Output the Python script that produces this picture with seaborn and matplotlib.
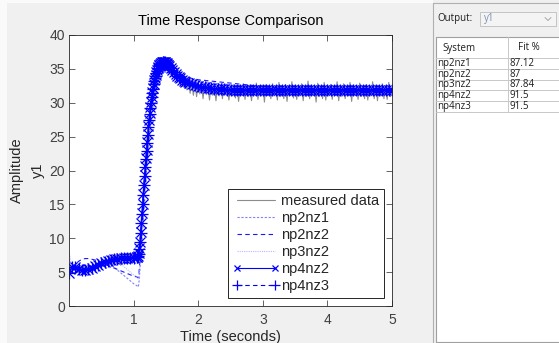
import numpy as np
import matplotlib
matplotlib.use("Agg")
import matplotlib.pyplot as plt
from matplotlib.patches import Rectangle
from matplotlib.lines import Line2D
import seaborn as sns

# ---------------- data ----------------
dt_meas = 0.025
measured = [
    4.6, 6.0, 5.4, 6.1, 5.2, 5.9, 4.9, 5.7, 5.0, 5.8,
    4.7, 5.6, 5.1, 6.0, 5.2, 6.1, 5.3, 6.4, 5.5, 6.6,
    5.6, 6.9, 5.9, 7.0, 6.0, 7.3, 6.2, 7.4, 6.1, 7.6,
    6.3, 7.5, 6.0, 7.7, 6.4, 7.6, 6.2, 7.8, 6.3, 7.7,
    6.5, 7.6, 6.6, 7.9, 10.2, 13.5, 17.2, 20.5, 23.8, 26.3,
    29.0, 30.8, 32.6, 33.8, 34.9, 35.4, 36.1, 36.3, 36.5, 36.1,
    36.4, 35.6, 35.8, 34.6, 35.2, 34.0, 34.6, 33.3, 34.2, 32.7,
    33.9, 32.3, 33.5, 31.9, 33.3, 31.4, 33.0, 31.1, 32.9, 30.9,
    32.8, 31.3, 32.7, 30.6, 32.6, 31.2, 32.5, 30.4, 32.6, 31.1,
    32.4, 30.3, 32.5, 31.0, 32.6, 30.6, 32.5, 31.2, 32.7, 30.4,
    32.4, 31.0, 32.6, 30.7, 32.5, 30.2, 32.4, 31.1, 32.8, 30.5,
    32.5, 30.9, 32.6, 30.3, 32.4, 31.2, 32.9, 30.5, 32.5, 31.0,
    32.6, 30.1, 32.7, 31.1, 32.4, 30.6, 32.8, 31.0, 32.5, 30.4,
    33.0, 30.9, 32.4, 30.6, 32.7, 30.2, 32.5, 31.1, 33.1, 30.7,
    32.6, 30.5, 32.4, 31.0, 32.8, 30.3, 32.5, 30.9, 33.2, 30.6,
    32.6, 31.1, 32.4, 30.1, 32.9, 30.9, 32.5, 30.6, 33.0, 30.4,
    32.6, 31.0, 32.7, 30.5, 32.5, 31.1, 33.1, 30.3, 32.5, 30.9,
    32.8, 30.6, 32.4, 31.0, 33.0, 30.2, 32.6, 31.1, 32.5, 30.5,
    32.9, 30.9, 32.5, 30.6, 32.7, 30.4, 32.4, 31.0, 33.1, 30.6,
    32.6, 30.3, 32.5, 31.0, 32.8, 30.6, 32.5, 30.5, 33.0, 30.9,
    32.1,
]
t_meas = np.round(np.arange(len(measured)) * dt_meas, 4)

# model time grid: coarse before the step, fine during the step, coarse after
t_model = np.round(np.concatenate([
    np.arange(0.0, 1.0501, 0.05),
    np.arange(1.06, 1.5501, 0.01),
    np.arange(1.575, 1.8001, 0.025),
    np.arange(1.85, 5.0001, 0.05),
]), 4)

np2nz1 = [
    # 0 .. 1.05
    4.2, 5.4, 5.6, 5.5, 5.4, 5.4, 5.5, 5.7, 5.9, 6.1, 6.3, 6.4, 6.4, 6.1, 5.7, 5.3, 4.9, 4.5, 4.1, 3.7, 3.3, 3.0,
    # 1.06 .. 1.55
    2.9, 2.8, 3.2, 4.2, 5.5, 6.9, 8.3, 9.7, 11.1, 12.5,
    13.9, 15.3, 16.7, 18.1, 19.5, 20.7, 21.9, 23.1, 24.2, 25.3,
    26.3, 27.2, 28.1, 28.9, 29.6, 30.2, 30.8, 31.4, 31.9, 32.3,
    32.7, 33.0, 33.3, 33.55, 33.8, 33.95, 34.1, 34.25, 34.35, 34.4,
    34.45, 34.5, 34.5, 34.5, 34.5, 34.5, 34.47, 34.45, 34.42, 34.4,
    # 1.575 .. 1.8
    34.3, 34.2, 34.1, 34.0, 33.9, 33.8, 33.7, 33.65, 33.6, 33.55,
    # 1.85 .. 5.0
    33.45, 33.35, 33.25, 33.15, 33.1, 33.05, 33.0, 32.95, 32.9, 32.85, 32.8, 32.75, 32.7, 32.65,
    32.6, 32.55, 32.5, 32.45, 32.4, 32.35, 32.3, 32.25, 32.2, 32.15,
    32.1, 32.1, 32.05, 32.05, 32.0, 32.0, 32.0, 31.95, 31.95, 31.95,
    31.95, 31.9, 31.9, 31.9, 31.9, 31.9, 31.9, 31.9, 31.9, 31.9,
    31.9, 31.9, 31.9, 31.9, 31.9, 31.9, 31.9, 31.9, 31.9, 31.9,
    31.9, 31.9, 31.9, 31.9, 31.9, 31.9, 31.9, 31.9, 31.9, 31.9,
]
np2nz2 = [
    4.5, 5.6, 6.2, 6.6, 6.9, 7.0, 7.0, 6.9, 6.8, 6.6, 6.4, 6.2, 6.0, 5.8, 5.6, 5.4, 5.2, 5.0, 4.8, 4.6, 4.4, 4.3,
    4.2, 4.2, 4.6, 5.7, 7.0, 8.4, 9.8, 11.2, 12.6, 14.0,
    15.4, 16.8, 18.2, 19.6, 21.0, 22.2, 23.4, 24.6, 25.7, 26.8,
    27.7, 28.6, 29.4, 30.1, 30.8, 31.4, 31.9, 32.4, 32.8, 33.2,
    33.5, 33.8, 34.0, 34.15, 34.3, 34.4, 34.5, 34.6, 34.7, 34.75,
    34.78, 34.8, 34.8, 34.8, 34.8, 34.8, 34.78, 34.75, 34.72, 34.7,
    34.6, 34.5, 34.4, 34.3, 34.2, 34.1, 34.0, 33.9, 33.85, 33.8,
    33.7, 33.6, 33.5, 33.4, 33.35, 33.3, 33.25, 33.2, 33.15, 33.1, 33.05, 33.0, 32.95, 32.9,
    32.85, 32.8, 32.75, 32.7, 32.65, 32.6, 32.55, 32.5, 32.45, 32.4,
    32.35, 32.3, 32.25, 32.2, 32.15, 32.1, 32.1, 32.05, 32.05, 32.0,
    32.0, 32.0, 31.95, 31.95, 31.95, 31.95, 31.9, 31.9, 31.9, 31.9,
    31.9, 31.9, 31.9, 31.9, 31.9, 31.9, 31.9, 31.9, 31.9, 31.9,
    31.9, 31.9, 31.9, 31.9, 31.9, 31.9, 31.9, 31.9, 31.9, 31.9,
]
np3nz2 = [
    8.3, 5.0, 5.5, 5.5, 5.4, 5.35, 5.4, 5.6, 5.85, 6.1, 6.3, 6.5, 6.6, 6.7, 6.7, 6.5, 6.2, 5.8, 5.4, 5.0, 4.6, 4.3,
    4.2, 4.0, 4.3, 5.3, 6.5, 7.9, 9.3, 10.7, 12.1, 13.5,
    14.9, 16.3, 17.7, 19.1, 20.5, 21.7, 22.9, 24.1, 25.2, 26.2,
    27.2, 28.1, 29.0, 29.8, 30.5, 31.1, 31.7, 32.3, 32.8, 33.2,
    33.5, 33.8, 34.1, 34.35, 34.6, 34.7, 34.8, 34.95, 35.05, 35.1,
    35.15, 35.2, 35.2, 35.2, 35.2, 35.18, 35.15, 35.1, 35.05, 35.0,
    34.85, 34.7, 34.55, 34.4, 34.25, 34.1, 33.95, 33.8, 33.7, 33.6,
    33.4, 33.2, 33.05, 32.9, 32.8, 32.7, 32.6, 32.5, 32.45, 32.4, 32.35, 32.3, 32.25, 32.2,
    32.15, 32.1, 32.1, 32.05, 32.05, 32.0, 32.0, 32.0, 31.95, 31.95,
    31.95, 31.9, 31.9, 31.9, 31.9, 31.9, 31.9, 31.9, 31.9, 31.9,
    31.9, 31.9, 31.9, 31.9, 31.9, 31.9, 31.9, 31.9, 31.9, 31.9,
    31.9, 31.9, 31.9, 31.9, 31.9, 31.9, 31.9, 31.9, 31.9, 31.9,
    31.9, 31.9, 31.9, 31.9, 31.9, 31.9, 31.9, 31.9, 31.9, 31.9,
]
np4nz2 = [
    4.8, 5.8, 5.7, 5.5, 5.35, 5.3, 5.4, 5.6, 5.85, 6.1, 6.3, 6.5, 6.65, 6.8, 6.9, 7.0, 7.05, 7.1, 7.1, 7.15, 7.15, 7.2,
    7.25, 7.4, 7.8, 8.5, 9.5, 10.9, 12.3, 13.7, 15.1, 16.5,
    17.9, 19.3, 20.6, 21.8, 23.0, 24.2, 25.4, 26.5, 27.5, 28.5,
    29.3, 30.1, 30.9, 31.6, 32.2, 32.8, 33.3, 33.7, 34.1, 34.5,
    34.8, 35.1, 35.3, 35.5, 35.6, 35.75, 35.85, 35.9, 35.95, 36.0,
    36.0, 36.0, 36.0, 35.95, 35.9, 35.8, 35.7, 35.6, 35.5, 35.4,
    35.1, 34.8, 34.5, 34.2, 34.0, 33.8, 33.6, 33.4, 33.2, 33.1,
    32.9, 32.7, 32.55, 32.45, 32.35, 32.3, 32.2, 32.15, 32.1, 32.05, 32.0, 32.0, 31.95, 31.95,
    31.9, 31.9, 31.9, 31.9, 31.9, 31.9, 31.9, 31.9, 31.9, 31.9,
    31.9, 31.9, 31.9, 31.9, 31.9, 31.9, 31.9, 31.9, 31.9, 31.9,
    31.9, 31.9, 31.9, 31.9, 31.9, 31.9, 31.9, 31.9, 31.9, 31.9,
    31.9, 31.9, 31.9, 31.9, 31.9, 31.9, 31.9, 31.9, 31.9, 31.9,
    31.9, 31.9, 31.9, 31.9, 31.9, 31.9, 31.9, 31.9, 31.9, 31.9,
]
np4nz3 = [
    4.9, 5.8, 5.7, 5.5, 5.35, 5.3, 5.4, 5.6, 5.85, 6.1, 6.3, 6.5, 6.65, 6.8, 6.9, 7.0, 7.05, 7.1, 7.1, 7.15, 7.15, 7.2,
    7.25, 7.35, 7.7, 8.4, 9.4, 10.8, 12.2, 13.6, 15.0, 16.4,
    17.8, 19.2, 20.5, 21.7, 22.9, 24.1, 25.3, 26.4, 27.4, 28.4,
    29.2, 30.0, 30.8, 31.5, 32.1, 32.7, 33.2, 33.6, 34.0, 34.4,
    34.7, 35.0, 35.2, 35.4, 35.55, 35.7, 35.8, 35.85, 35.9, 35.95,
    35.95, 35.95, 35.95, 35.9, 35.85, 35.75, 35.65, 35.55, 35.45, 35.35,
    35.1, 34.8, 34.5, 34.2, 34.0, 33.8, 33.6, 33.4, 33.2, 33.1,
    32.9, 32.7, 32.55, 32.45, 32.35, 32.3, 32.2, 32.15, 32.1, 32.05, 32.0, 32.0, 31.95, 31.95,
    31.9, 31.9, 31.9, 31.9, 31.9, 31.9, 31.9, 31.9, 31.9, 31.9,
    31.9, 31.9, 31.9, 31.9, 31.9, 31.9, 31.9, 31.9, 31.9, 31.9,
    31.9, 31.9, 31.9, 31.9, 31.9, 31.9, 31.9, 31.9, 31.9, 31.9,
    31.9, 31.9, 31.9, 31.9, 31.9, 31.9, 31.9, 31.9, 31.9, 31.9,
    31.9, 31.9, 31.9, 31.9, 31.9, 31.9, 31.9, 31.9, 31.9, 31.9,
]

systems = ["np2nz1", "np2nz2", "np3nz2", "np4nz2", "np4nz3"]
fit_pct = [87.12, 87, 87.84, 91.5, 91.5]
x_ticks = [1, 2, 3, 4, 5]
y_ticks = [0, 5, 10, 15, 20, 25, 30, 35, 40]

# ---------------- style ----------------
sns.set_style("ticks")
plt.rcParams["font.family"] = ["Liberation Sans", "DejaVu Sans"]

W, H = 559, 343
fig = plt.figure(figsize=(W / 100, H / 100), dpi=100, facecolor="#f0f0f0")

def fx(px):
    return px / W

def fy(py):
    return 1 - py / H

ax_l, ax_r, ax_t, ax_b = 69, 392, 35, 306
ax = fig.add_axes([fx(ax_l), fy(ax_b), (ax_r - ax_l) / W, (ax_b - ax_t) / H])
ax.set_facecolor("white")

blue = "#0000ff"
styles = [
    ("measured data", t_meas, measured, dict(color="#8c8c8c", lw=0.8, linestyle="-"), {}),
    ("np2nz1", t_model, np2nz1, dict(color="#8080ff", lw=0.8, linestyle=(0, (2, 1.5))), {}),
    ("np2nz2", t_model, np2nz2, dict(color="#1a1aff", lw=0.8, linestyle=(0, (4, 3))), {}),
    ("np3nz2", t_model, np3nz2, dict(color="#b8b8ff", lw=0.8, linestyle=(0, (1, 1))), {}),
    ("np4nz2", t_model, np4nz2, dict(color=blue, lw=0.8, linestyle="-",
                                     marker="x", markersize=7, markeredgewidth=0.9,
                                     markeredgecolor=blue, markerfacecolor=blue),
     dict(markersize=5)),
    ("np4nz3", t_model, np4nz3, dict(color=blue, lw=0.8, linestyle=(0, (4, 3)),
                                     marker="+", markersize=8, markeredgewidth=0.9,
                                     markeredgecolor=blue, markerfacecolor=blue),
     dict(markersize=6.5)),
]

handles = []
for name, tx, yv, kw, leg_kw in styles:
    sns.lineplot(x=tx, y=yv, ax=ax, estimator=None, sort=False, legend=False, **kw)
    hk = dict(kw)
    hk.update(leg_kw)
    handles.append(Line2D([], [], label=name, **hk))

ax.set_xlim(0, 5)
ax.set_ylim(0, 40)
ax.set_xticks(x_ticks)
ax.set_yticks(y_ticks)
ax.tick_params(direction="in", length=4, width=0.5, colors="#262626",
               labelcolor="#404040", labelsize=10, top=True, right=True)
ax.tick_params(axis="x", pad=5)
ax.tick_params(axis="y", pad=3)
for s in ax.spines.values():
    s.set_color("#262626")
    s.set_linewidth(0.6)

ax.set_title("Time Response Comparison", fontsize=10.5, pad=7, color="black")
ax.set_xlabel("Time (seconds)", fontsize=10.5, color="#262626", labelpad=2)
ax.set_ylabel("Amplitude\ny1", fontsize=10.5, color="#262626", linespacing=1.6)
ax.yaxis.set_label_coords(-0.075, 0.5)

leg = ax.legend(handles=handles, loc="lower right", fontsize=10.5, frameon=True,
                fancybox=False, framealpha=1, edgecolor="#262626", handlelength=3.2,
                handletextpad=0.1, labelspacing=0.2, borderpad=0.35,
                borderaxespad=0.55, numpoints=2)
leg.get_frame().set_linewidth(0.7)

# ---------------- right-hand panel ----------------
def rect(x0, y0, x1, y1, **kw):
    fig.patches.append(Rectangle((fx(x0), fy(y1)), fx(x1) - fx(x0), fy(y0) - fy(y1),
                                 transform=fig.transFigure, **kw))

def hline(x0, x1, y, **kw):
    fig.lines.append(Line2D([fx(x0), fx(x1)], [fy(y), fy(y)], transform=fig.transFigure, **kw))

def vline(x, y0, y1, **kw):
    fig.lines.append(Line2D([fx(x), fx(x)], [fy(y0), fy(y1)], transform=fig.transFigure, **kw))

rect(0, 0, 7, H, facecolor="#fafafa", edgecolor="none")
rect(0, 0, 433, 3, facecolor="#fafafa", edgecolor="none")
vline(433, 3, H, color="#b0b0b0", lw=0.8)
hline(433, W, 3, color="#b0b0b0", lw=0.8)

panel_font = ["Open Sans", "DejaVu Sans"]
pfs = 7.0
fig.text(fx(437), fy(18.5), "Output:", fontsize=pfs, family=panel_font, color="#1e1e1e",
         ha="left", va="center")
rect(480, 12, 556, 25.5, facecolor="#f4f4f4", edgecolor="#c4c4c4", lw=0.7)
fig.text(fx(484), fy(18.5), "y1", fontsize=pfs, family=panel_font, color="#8090b0",
         ha="left", va="center")
fig.lines.append(Line2D([fx(545), fx(548), fx(551)], [fy(17.5), fy(20.5), fy(17.5)],
                        transform=fig.transFigure, color="#a8a8a8", lw=0.7))

rect(436, 37, W + 2, 342, facecolor="white", edgecolor="#a0a0a0", lw=0.8)
row_top = 58
row_h = 10.75
hline(436, W, row_top, color="#c8c8c8", lw=0.7)
vline(508, 37, row_top + row_h * len(systems), color="#c8c8c8", lw=0.7)
fig.text(fx(442), fy(48), "System", fontsize=pfs, family=panel_font, color="#1e1e1e",
         ha="left", va="center")
fig.text(fx(518), fy(48), "Fit %", fontsize=pfs, family=panel_font, color="#1e1e1e",
         ha="left", va="center")
for i, (name, val) in enumerate(zip(systems, fit_pct)):
    yc = row_top + row_h * (i + 0.5)
    hline(436, W, row_top + row_h * (i + 1), color="#c8c8c8", lw=0.7)
    fig.text(fx(437), fy(yc), name, fontsize=pfs, family=panel_font, color="#1e1e1e",
             ha="left", va="center")
    fig.text(fx(510), fy(yc), f"{val:g}", fontsize=pfs, family=panel_font, color="#1e1e1e",
             ha="left", va="center")

fig.savefig("out.png", dpi=100, facecolor=fig.get_facecolor())
